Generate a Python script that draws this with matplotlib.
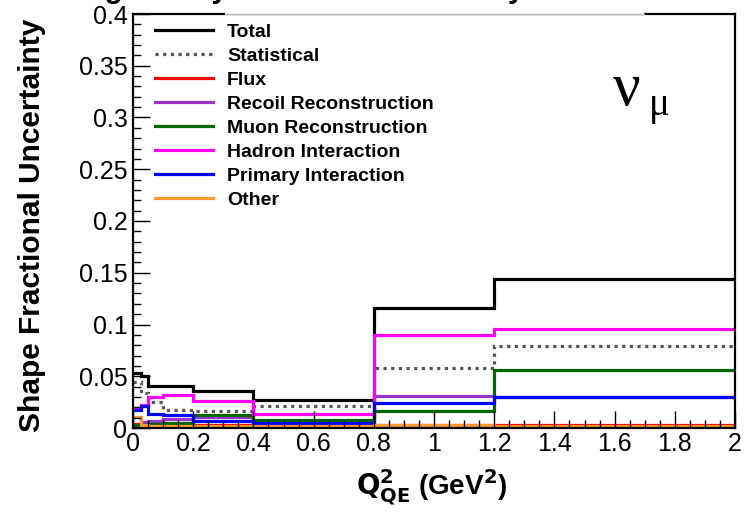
"""
Shape fractional uncertainty vs Q2_QE, broken down by error source.
"""

import matplotlib

matplotlib.use("Agg")
import matplotlib.pyplot as plt
from matplotlib.lines import Line2D
from matplotlib.patches import Rectangle
from matplotlib.ticker import FuncFormatter, MultipleLocator

# Q2 bin edges (GeV^2)
q2_edges = [0.0, 0.025, 0.05, 0.1, 0.2, 0.4, 0.8, 1.2, 2.0]

# Fractional uncertainty per bin
total = [0.0534, 0.0502, 0.041, 0.0405, 0.036, 0.027, 0.1163, 0.144]
statistical = [0.0447, 0.034, 0.0254, 0.0174, 0.0165, 0.0213, 0.0577, 0.0795]
flux = [0.004, 0.004, 0.003, 0.003, 0.003, 0.003, 0.003, 0.003]
recoil = [0.002, 0.006, 0.007, 0.009, 0.011, 0.002, 0.031, 0.030]
muon = [0.003, 0.003, 0.004, 0.0045, 0.013, 0.0077, 0.0167, 0.056]
hadron = [0.019, 0.022, 0.030, 0.032, 0.026, 0.0132, 0.090, 0.096]
primary = [0.017, 0.021, 0.014, 0.013, 0.007, 0.005, 0.024, 0.0295]
other = [0.011, 0.003, 0.002, 0.002, 0.002, 0.002, 0.003, 0.002]

labels = [
    "Total",
    "Statistical",
    "Flux",
    "Recoil Reconstruction",
    "Muon Reconstruction",
    "Hadron Interaction",
    "Primary Interaction",
    "Other",
]
series = [total, statistical, flux, recoil, muon, hadron, primary, other]
colors = ["black", "#555555", "#ff0000", "#9933cc", "#006600", "#ff00ff", "#0000ff", "#ff9933"]

W, H = 747, 512
fig = plt.figure(figsize=(W / 100, H / 100), dpi=100)
ax = fig.add_axes([133 / W, 1 - 428 / H, (735 - 133) / W, (428 - 14) / H])

lw = 2.3
handles = []
for vals, lab, col in zip(series, labels, colors):
    ls = (0, (1.0, 1.4)) if lab == "Statistical" else "-"
    ax.stairs(vals, q2_edges, baseline=None, color=col, linewidth=lw, linestyle=ls)
    handles.append(Line2D([], [], color=col, linewidth=lw, linestyle=ls))

ax.set_xlim(0, 2)
ax.set_ylim(0, 0.4)

# ROOT-like ticks
ax.xaxis.set_major_locator(MultipleLocator(0.2))
ax.xaxis.set_minor_locator(MultipleLocator(0.05))
ax.yaxis.set_major_locator(MultipleLocator(0.05))
ax.yaxis.set_minor_locator(MultipleLocator(0.01))
fmt = FuncFormatter(lambda v, pos: "%g" % round(v, 3))
ax.xaxis.set_major_formatter(fmt)
ax.yaxis.set_major_formatter(fmt)
ax.tick_params(which="both", direction="in", top=False, right=False, width=1)
ax.tick_params(which="major", length=12, labelsize=18)
ax.tick_params(which="minor", length=6)
ax.tick_params(axis="x", pad=3)
ax.tick_params(axis="y", pad=4)
for t in ax.get_xticklabels() + ax.get_yticklabels():
    t.set_family("Liberation Sans")
for sp in ax.spines.values():
    sp.set_linewidth(1.6)

# axis titles
fig.text(32 / W, 1 - 225 / H, "Shape Fractional Uncertainty", rotation=90,
         ha="center", va="center", fontsize=21.5, fontweight="bold",
         family="Liberation Sans")
fig.text(432 / W, 1 - 488 / H, r"$\mathbf{Q^{2}_{QE}}$ (GeV$^{\mathbf{2}}$)",
         ha="center", va="center", fontsize=20, fontweight="bold",
         family="Liberation Sans")

# neutrino label
fig.text(613 / W, 1 - 105 / H, "ν", fontsize=44, ha="left", va="baseline",
         family="Liberation Serif")
fig.text(649 / W, 1 - 115 / H, "μ", fontsize=28, ha="left", va="baseline",
         family="Liberation Serif")

# title box (cut off at the top of the canvas): white fill, grey lower edge
fig.patches.append(Rectangle((225 / W, 1 - 14 / H), (644 - 225) / W, 0.2,
                             transform=fig.transFigure, facecolor="white",
                             edgecolor="none", zorder=5))
fig.add_artist(Line2D([225 / W, 644 / W], [1 - 14 / H, 1 - 14 / H],
                      transform=fig.transFigure, color="#bbbbbb",
                      linewidth=1, zorder=6))
fig.text(-7 / W, 1 + 2 / H, "Including Theory and Flux Uncertainty",
         ha="left", va="baseline", fontsize=21, fontweight="bold",
         family="Liberation Sans", zorder=7)

leg = ax.legend(handles, labels, loc="upper left",
                bbox_to_anchor=(155 / W, 1 - 23 / H),
                bbox_transform=fig.transFigure, frameon=False,
                prop={"family": "Liberation Sans", "weight": "bold", "size": 14},
                handlelength=3.0, handletextpad=0.7, labelspacing=0.33,
                borderpad=0, borderaxespad=0)

fig.savefig("out.png", dpi=100, facecolor="white")
